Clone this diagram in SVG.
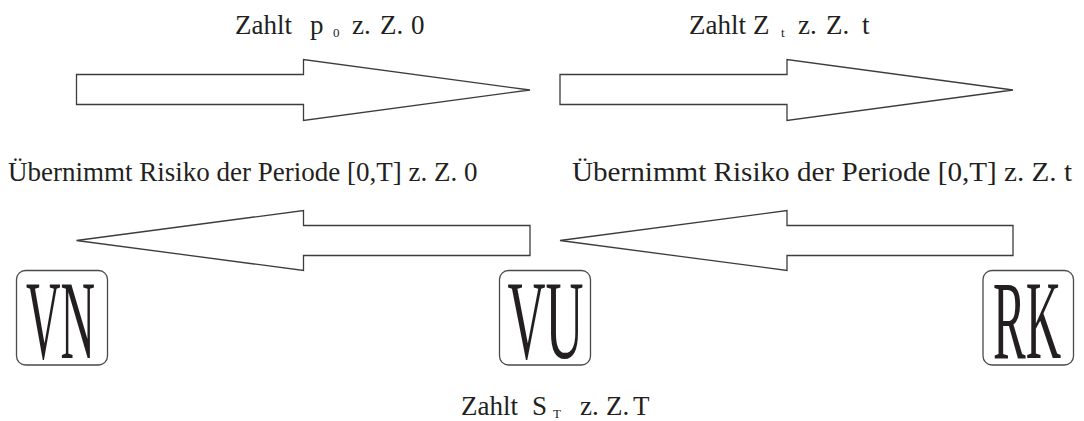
<svg xmlns="http://www.w3.org/2000/svg" width="1084" height="421" viewBox="0 0 1084 421">
  <style>
    text { font-family: "Liberation Serif", "Times New Roman", "DejaVu Serif", serif; fill: #231f20; }
    .lbl { font-size: 27px; }
    .sub { font-size: 13px; }
    .big { font-size: 112px; text-anchor: middle; }
    .arrow { fill: #ffffff; stroke: #3c3c3c; stroke-width: 1.3; stroke-linejoin: miter; }
    .box { fill: #ffffff; stroke: #4a4a4a; stroke-width: 1.3; }
  </style>
  <rect width="1084" height="421" fill="#ffffff"/>

  <!-- block arrows between the parties -->
  <g id="connectors">
    <polygon class="arrow" points="76.5,74.5 303.5,74.5 303.5,59.5 530,90 303.5,120.5 303.5,104.5 76.5,104.5"/>
    <polygon class="arrow" points="560,74.5 787,74.5 787,59.5 1013,90 787,120.5 787,104.5 560,104.5"/>
    <polygon class="arrow" points="530,225.5 303.5,225.5 303.5,210.5 76.5,240.5 303.5,270.5 303.5,255.5 530,255.5"/>
    <polygon class="arrow" points="1013,225.5 787,225.5 787,210.5 560,240.5 787,270.5 787,255.5 1013,255.5"/>
  </g>

  <!-- flow labels -->
  <g id="labels">
    <text class="lbl" y="34"><tspan x="235">Zahlt</tspan><tspan x="310">p</tspan><tspan class="sub" x="333" dy="3">0</tspan><tspan x="352" dy="-3">z.</tspan><tspan x="380">Z.</tspan><tspan x="411">0</tspan></text>
    <text class="lbl" y="34"><tspan x="689">Zahlt</tspan><tspan x="753">Z</tspan><tspan class="sub" x="781" dy="3">t</tspan><tspan x="798" dy="-3">z.</tspan><tspan x="826">Z.</tspan><tspan x="862">t</tspan></text>
    <text class="lbl" x="8" y="181">Übernimmt Risiko der Periode [0,T] z. Z. 0</text>
    <text class="lbl" x="572" y="181" textLength="500" lengthAdjust="spacingAndGlyphs">Übernimmt Risiko der Periode [0,T] z. Z. t</text>
    <text class="lbl" y="415"><tspan x="461">Zahlt</tspan><tspan x="532">S</tspan><tspan class="sub" x="553" dy="3">T</tspan><tspan x="580" dy="-3">z.</tspan><tspan x="606">Z.</tspan><tspan x="633">T</tspan></text>
  </g>

  <g id="VN">
    <rect class="box" x="16.5" y="270.5" width="91" height="94.5" rx="9"/>
    <text class="big" x="60.5" y="358" textLength="69" lengthAdjust="spacingAndGlyphs">VN</text>
  </g>
  <g id="VU">
    <rect class="box" x="499.5" y="270.5" width="91" height="94.5" rx="9"/>
    <text class="big" x="545.5" y="358" textLength="76" lengthAdjust="spacingAndGlyphs">VU</text>
  </g>
  <g id="RK">
    <rect class="box" x="983" y="270.5" width="90.5" height="94.5" rx="9"/>
    <text class="big" x="1027" y="358" textLength="68" lengthAdjust="spacingAndGlyphs">RK</text>
  </g>
</svg>
